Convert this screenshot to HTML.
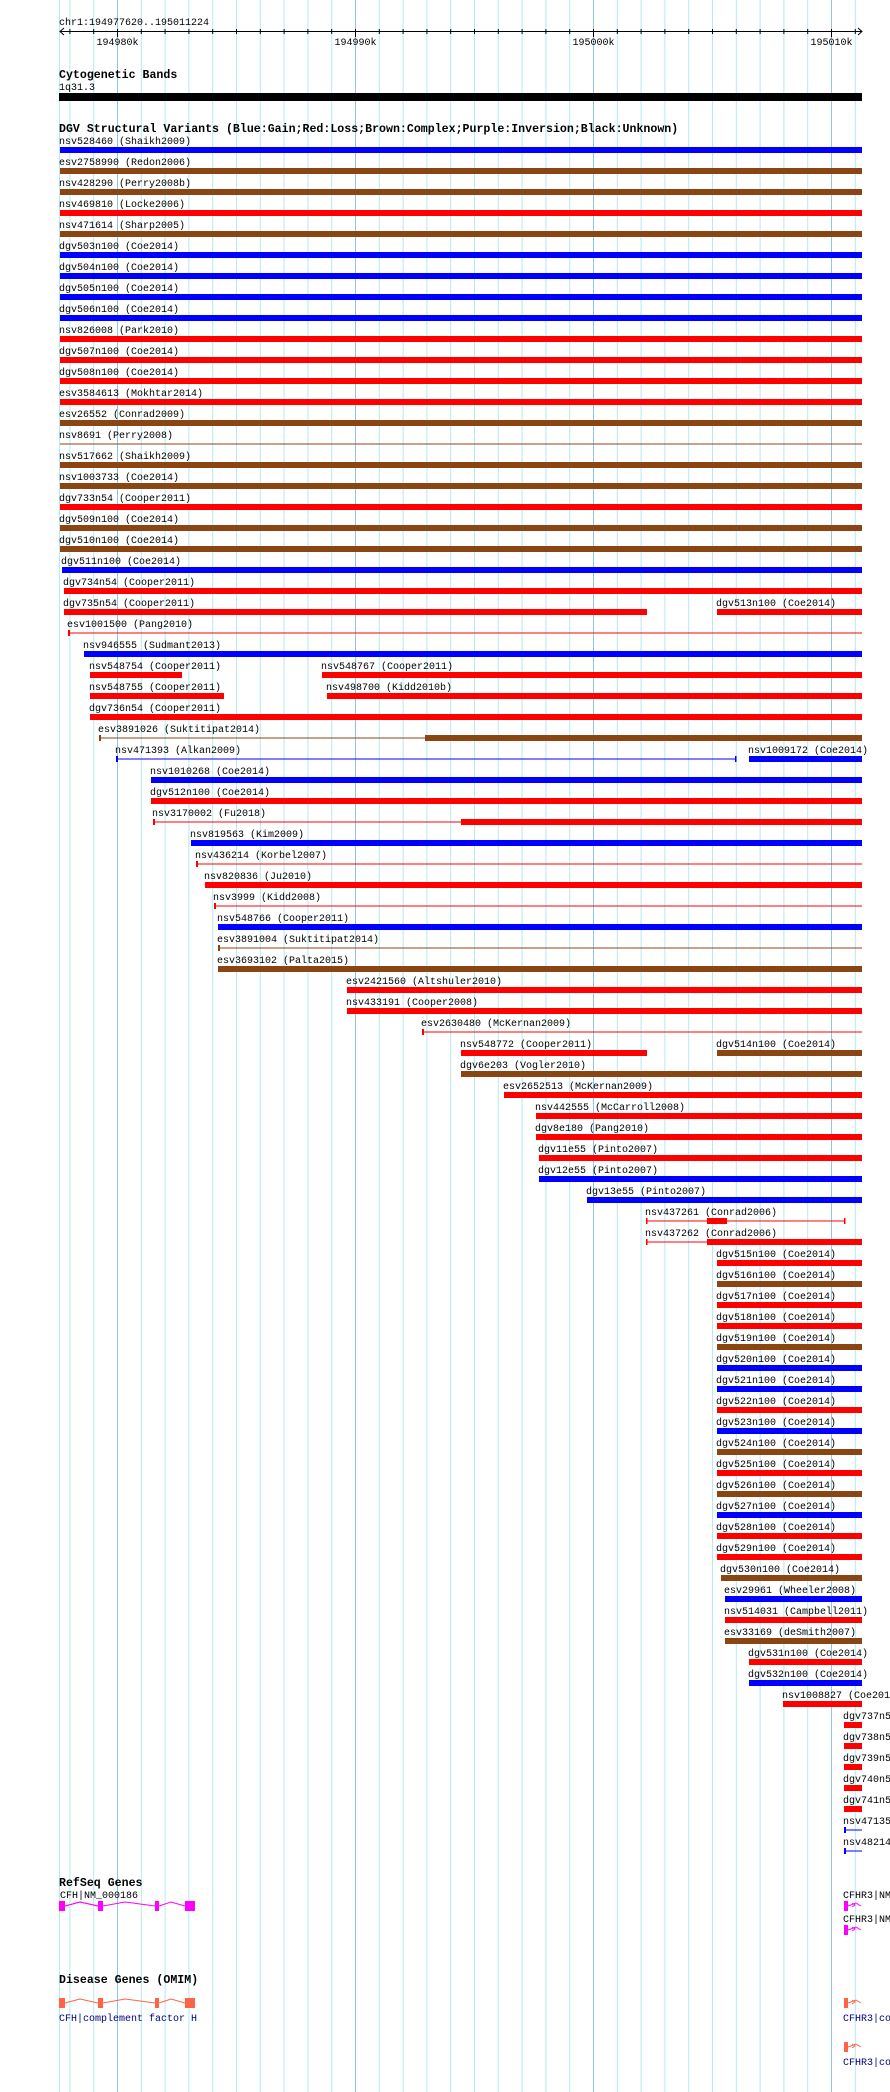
<!DOCTYPE html>
<html><head><meta charset="utf-8"><style>
html,body{margin:0;padding:0;background:#fff;width:890px;height:2092px;overflow:hidden}
svg{display:block}
text{font-family:"Liberation Mono",monospace;font-size:10px;fill:#000}
.t{font-weight:bold;font-size:11.6px}
</style></head><body>
<svg width="890" height="2092" viewBox="0 0 890 2092" xmlns="http://www.w3.org/2000/svg">
<g stroke="#b4eaf2" stroke-width="1">
<line x1="59.5" y1="0" x2="59.5" y2="2092"/>
<line x1="69.9" y1="0" x2="69.9" y2="2092"/><line x1="93.7" y1="0" x2="93.7" y2="2092"/>
<line x1="141.3" y1="0" x2="141.3" y2="2092"/><line x1="165.1" y1="0" x2="165.1" y2="2092"/><line x1="188.9" y1="0" x2="188.9" y2="2092"/><line x1="212.7" y1="0" x2="212.7" y2="2092"/><line x1="236.5" y1="0" x2="236.5" y2="2092"/><line x1="260.3" y1="0" x2="260.3" y2="2092"/><line x1="284.1" y1="0" x2="284.1" y2="2092"/><line x1="307.9" y1="0" x2="307.9" y2="2092"/><line x1="331.7" y1="0" x2="331.7" y2="2092"/>
<line x1="379.3" y1="0" x2="379.3" y2="2092"/><line x1="403.1" y1="0" x2="403.1" y2="2092"/><line x1="426.9" y1="0" x2="426.9" y2="2092"/><line x1="450.7" y1="0" x2="450.7" y2="2092"/><line x1="474.5" y1="0" x2="474.5" y2="2092"/><line x1="498.3" y1="0" x2="498.3" y2="2092"/><line x1="522.1" y1="0" x2="522.1" y2="2092"/><line x1="545.9" y1="0" x2="545.9" y2="2092"/><line x1="569.7" y1="0" x2="569.7" y2="2092"/>
<line x1="617.3" y1="0" x2="617.3" y2="2092"/><line x1="641.1" y1="0" x2="641.1" y2="2092"/><line x1="664.9" y1="0" x2="664.9" y2="2092"/><line x1="688.7" y1="0" x2="688.7" y2="2092"/><line x1="712.5" y1="0" x2="712.5" y2="2092"/><line x1="736.3" y1="0" x2="736.3" y2="2092"/><line x1="760.1" y1="0" x2="760.1" y2="2092"/><line x1="783.9" y1="0" x2="783.9" y2="2092"/><line x1="807.7" y1="0" x2="807.7" y2="2092"/>
<line x1="855.3" y1="0" x2="855.3" y2="2092"/>
</g>
<g stroke="#8cc8e6" stroke-width="1">
<line x1="117.5" y1="0" x2="117.5" y2="2092"/><line x1="355.5" y1="0" x2="355.5" y2="2092"/><line x1="593.5" y1="0" x2="593.5" y2="2092"/><line x1="831.5" y1="0" x2="831.5" y2="2092"/>
</g>
<!-- ruler -->
<text x="59" y="25">chr1:194977620..195011224</text>
<g stroke="#000" stroke-width="1">
<line x1="60" y1="31.5" x2="862" y2="31.5"/>
<polyline fill="none" points="64,28 60,31.5 64,35"/><polyline fill="none" points="858,28 862,31.5 858,35"/>
<line x1="69.9" y1="29" x2="69.9" y2="34"/><line x1="93.7" y1="29" x2="93.7" y2="34"/><line x1="117.5" y1="29" x2="117.5" y2="37"/><line x1="141.3" y1="29" x2="141.3" y2="34"/><line x1="165.1" y1="29" x2="165.1" y2="34"/><line x1="188.9" y1="29" x2="188.9" y2="34"/><line x1="212.7" y1="29" x2="212.7" y2="34"/><line x1="236.5" y1="29" x2="236.5" y2="34"/><line x1="260.3" y1="29" x2="260.3" y2="34"/><line x1="284.1" y1="29" x2="284.1" y2="34"/><line x1="307.9" y1="29" x2="307.9" y2="34"/><line x1="331.7" y1="29" x2="331.7" y2="34"/><line x1="355.5" y1="29" x2="355.5" y2="37"/><line x1="379.3" y1="29" x2="379.3" y2="34"/><line x1="403.1" y1="29" x2="403.1" y2="34"/><line x1="426.9" y1="29" x2="426.9" y2="34"/><line x1="450.7" y1="29" x2="450.7" y2="34"/><line x1="474.5" y1="29" x2="474.5" y2="34"/><line x1="498.3" y1="29" x2="498.3" y2="34"/><line x1="522.1" y1="29" x2="522.1" y2="34"/><line x1="545.9" y1="29" x2="545.9" y2="34"/><line x1="569.7" y1="29" x2="569.7" y2="34"/><line x1="593.5" y1="29" x2="593.5" y2="37"/><line x1="617.3" y1="29" x2="617.3" y2="34"/><line x1="641.1" y1="29" x2="641.1" y2="34"/><line x1="664.9" y1="29" x2="664.9" y2="34"/><line x1="688.7" y1="29" x2="688.7" y2="34"/><line x1="712.5" y1="29" x2="712.5" y2="34"/><line x1="736.3" y1="29" x2="736.3" y2="34"/><line x1="760.1" y1="29" x2="760.1" y2="34"/><line x1="783.9" y1="29" x2="783.9" y2="34"/><line x1="807.7" y1="29" x2="807.7" y2="34"/><line x1="831.5" y1="29" x2="831.5" y2="37"/><line x1="855.3" y1="29" x2="855.3" y2="34"/>
</g>
<text x="117.5" y="45" text-anchor="middle">194980k</text>
<text x="355.5" y="45" text-anchor="middle">194990k</text>
<text x="593.5" y="45" text-anchor="middle">195000k</text>
<text x="831.5" y="45" text-anchor="middle">195010k</text>
<!-- cyto -->
<text class="t" x="59" y="78">Cytogenetic Bands</text>
<text x="59" y="90">1q31.3</text>
<rect x="59" y="93" width="803" height="8" fill="#000"/>
<!-- DGV -->
<text class="t" x="59" y="132">DGV Structural Variants (Blue:Gain;Red:Loss;Brown:Complex;Purple:Inversion;Black:Unknown)</text>
<text x="59" y="144">nsv528460 (Shaikh2009)</text><rect x="60" y="147" width="802" height="6" fill="#0000ff"/>
<text x="59" y="165">esv2758990 (Redon2006)</text><rect x="60" y="168" width="802" height="6" fill="#8b4513"/>
<text x="59" y="186">nsv428290 (Perry2008b)</text><rect x="60" y="189" width="802" height="6" fill="#8b4513"/>
<text x="59" y="207">nsv469810 (Locke2006)</text><rect x="60" y="210" width="802" height="6" fill="#ff0000"/>
<text x="59" y="228">nsv471614 (Sharp2005)</text><rect x="60" y="231" width="802" height="6" fill="#8b4513"/>
<text x="59" y="249">dgv503n100 (Coe2014)</text><rect x="60" y="252" width="802" height="6" fill="#0000ff"/>
<text x="59" y="270">dgv504n100 (Coe2014)</text><rect x="60" y="273" width="802" height="6" fill="#0000ff"/>
<text x="59" y="291">dgv505n100 (Coe2014)</text><rect x="60" y="294" width="802" height="6" fill="#0000ff"/>
<text x="59" y="312">dgv506n100 (Coe2014)</text><rect x="60" y="315" width="802" height="6" fill="#0000ff"/>
<text x="59" y="333">nsv826008 (Park2010)</text><rect x="60" y="336" width="802" height="6" fill="#ff0000"/>
<text x="59" y="354">dgv507n100 (Coe2014)</text><rect x="60" y="357" width="802" height="6" fill="#ff0000"/>
<text x="59" y="375">dgv508n100 (Coe2014)</text><rect x="60" y="378" width="802" height="6" fill="#ff0000"/>
<text x="59" y="396">esv3584613 (Mokhtar2014)</text><rect x="60" y="399" width="802" height="6" fill="#ff0000"/>
<text x="59" y="417">esv26552 (Conrad2009)</text><rect x="60" y="420" width="802" height="6" fill="#8b4513"/>
<text x="59" y="438">nsv8691 (Perry2008)</text><rect x="60" y="443.5" width="802" height="1" fill="#8b4513"/>
<text x="59" y="459">nsv517662 (Shaikh2009)</text><rect x="60" y="462" width="802" height="6" fill="#8b4513"/>
<text x="59" y="480">nsv1003733 (Coe2014)</text><rect x="60" y="483" width="802" height="6" fill="#8b4513"/>
<text x="59" y="501">dgv733n54 (Cooper2011)</text><rect x="60" y="504" width="802" height="6" fill="#ff0000"/>
<text x="59" y="522">dgv509n100 (Coe2014)</text><rect x="60" y="525" width="802" height="6" fill="#8b4513"/>
<text x="59" y="543">dgv510n100 (Coe2014)</text><rect x="60" y="546" width="802" height="6" fill="#8b4513"/>
<text x="61" y="564">dgv511n100 (Coe2014)</text><rect x="62" y="567" width="800" height="6" fill="#0000ff"/>
<text x="63" y="585">dgv734n54 (Cooper2011)</text><rect x="64" y="588" width="798" height="6" fill="#ff0000"/>
<text x="63" y="606">dgv735n54 (Cooper2011)</text><rect x="64" y="609" width="583" height="6" fill="#ff0000"/>
<text x="716" y="606">dgv513n100 (Coe2014)</text><rect x="717" y="609" width="145" height="6" fill="#ff0000"/>
<text x="67" y="627">esv1001500 (Pang2010)</text><rect x="68" y="630" width="2" height="6" fill="#ff0000"/><rect x="68" y="632.5" width="794" height="1" fill="#ff0000"/>
<text x="83" y="648">nsv946555 (Sudmant2013)</text><rect x="84" y="651" width="778" height="6" fill="#0000ff"/>
<text x="89" y="669">nsv548754 (Cooper2011)</text><rect x="90" y="672" width="92" height="6" fill="#ff0000"/>
<text x="321" y="669">nsv548767 (Cooper2011)</text><rect x="322" y="672" width="540" height="6" fill="#ff0000"/>
<text x="89" y="690">nsv548755 (Cooper2011)</text><rect x="90" y="693" width="134" height="6" fill="#ff0000"/>
<text x="326" y="690">nsv498700 (Kidd2010b)</text><rect x="327" y="693" width="535" height="6" fill="#ff0000"/>
<text x="89" y="711">dgv736n54 (Cooper2011)</text><rect x="90" y="714" width="772" height="6" fill="#ff0000"/>
<text x="98" y="732">esv3891026 (Suktitipat2014)</text><rect x="99" y="735" width="2" height="6" fill="#8b4513"/><rect x="99" y="737.5" width="326" height="1" fill="#8b4513"/><rect x="425" y="735" width="437" height="6" fill="#8b4513"/>
<text x="115" y="753">nsv471393 (Alkan2009)</text><rect x="116" y="756" width="2" height="6" fill="#0000ff"/><rect x="116" y="758.5" width="620" height="1" fill="#0000ff"/><rect x="735" y="756" width="1.5" height="6" fill="#0000ff"/>
<text x="748" y="753">nsv1009172 (Coe2014)</text><rect x="749" y="756" width="113" height="6" fill="#0000ff"/>
<text x="150" y="774">nsv1010268 (Coe2014)</text><rect x="151" y="777" width="711" height="6" fill="#0000ff"/>
<text x="150" y="795">dgv512n100 (Coe2014)</text><rect x="151" y="798" width="711" height="6" fill="#ff0000"/>
<text x="152" y="816">nsv3170002 (Fu2018)</text><rect x="153" y="819" width="2" height="6" fill="#ff0000"/><rect x="153" y="821.5" width="308" height="1" fill="#ff0000"/><rect x="461" y="819" width="401" height="6" fill="#ff0000"/>
<text x="190" y="837">nsv819563 (Kim2009)</text><rect x="191" y="840" width="671" height="6" fill="#0000ff"/>
<text x="195" y="858">nsv436214 (Korbel2007)</text><rect x="196" y="861" width="2" height="6" fill="#ff0000"/><rect x="196" y="863.5" width="666" height="1" fill="#ff0000"/>
<text x="204" y="879">nsv820836 (Ju2010)</text><rect x="205" y="882" width="657" height="6" fill="#ff0000"/>
<text x="213" y="900">nsv3999 (Kidd2008)</text><rect x="214" y="903" width="2" height="6" fill="#ff0000"/><rect x="214" y="905.5" width="648" height="1" fill="#ff0000"/>
<text x="217" y="921">nsv548766 (Cooper2011)</text><rect x="218" y="924" width="644" height="6" fill="#0000ff"/>
<text x="217" y="942">esv3891004 (Suktitipat2014)</text><rect x="218" y="945" width="2" height="6" fill="#8b4513"/><rect x="218" y="947.5" width="644" height="1" fill="#8b4513"/>
<text x="217" y="963">esv3693102 (Palta2015)</text><rect x="218" y="966" width="644" height="6" fill="#8b4513"/>
<text x="346" y="984">esv2421560 (Altshuler2010)</text><rect x="347" y="987" width="515" height="6" fill="#ff0000"/>
<text x="346" y="1005">nsv433191 (Cooper2008)</text><rect x="347" y="1008" width="515" height="6" fill="#ff0000"/>
<text x="421" y="1026">esv2630480 (McKernan2009)</text><rect x="422" y="1029" width="2" height="6" fill="#ff0000"/><rect x="422" y="1031.5" width="440" height="1" fill="#ff0000"/>
<text x="460" y="1047">nsv548772 (Cooper2011)</text><rect x="461" y="1050" width="186" height="6" fill="#ff0000"/>
<text x="716" y="1047">dgv514n100 (Coe2014)</text><rect x="717" y="1050" width="145" height="6" fill="#8b4513"/>
<text x="460" y="1068">dgv6e203 (Vogler2010)</text><rect x="461" y="1071" width="401" height="6" fill="#8b4513"/>
<text x="503" y="1089">esv2652513 (McKernan2009)</text><rect x="504" y="1092" width="358" height="6" fill="#ff0000"/>
<text x="535" y="1110">nsv442555 (McCarroll2008)</text><rect x="536" y="1113" width="326" height="6" fill="#ff0000"/>
<text x="535" y="1131">dgv8e180 (Pang2010)</text><rect x="536" y="1134" width="326" height="6" fill="#ff0000"/>
<text x="538" y="1152">dgv11e55 (Pinto2007)</text><rect x="539" y="1155" width="323" height="6" fill="#ff0000"/>
<text x="538" y="1173">dgv12e55 (Pinto2007)</text><rect x="539" y="1176" width="323" height="6" fill="#0000ff"/>
<text x="586" y="1194">dgv13e55 (Pinto2007)</text><rect x="587" y="1197" width="275" height="6" fill="#0000ff"/>
<text x="645" y="1215">nsv437261 (Conrad2006)</text><rect x="646" y="1218" width="1.5" height="6" fill="#ff0000"/><rect x="646" y="1220.5" width="199" height="1" fill="#ff0000"/><rect x="707" y="1218" width="20" height="6" fill="#ff0000"/><rect x="844" y="1218" width="1.5" height="6" fill="#ff0000"/>
<text x="645" y="1236">nsv437262 (Conrad2006)</text><rect x="646" y="1239" width="1.5" height="6" fill="#ff0000"/><rect x="646" y="1241.5" width="61" height="1" fill="#ff0000"/><rect x="707" y="1239" width="155" height="6" fill="#ff0000"/>
<text x="716" y="1257">dgv515n100 (Coe2014)</text><rect x="717" y="1260" width="145" height="6" fill="#ff0000"/>
<text x="716" y="1278">dgv516n100 (Coe2014)</text><rect x="717" y="1281" width="145" height="6" fill="#8b4513"/>
<text x="716" y="1299">dgv517n100 (Coe2014)</text><rect x="717" y="1302" width="145" height="6" fill="#ff0000"/>
<text x="716" y="1320">dgv518n100 (Coe2014)</text><rect x="717" y="1323" width="145" height="6" fill="#ff0000"/>
<text x="716" y="1341">dgv519n100 (Coe2014)</text><rect x="717" y="1344" width="145" height="6" fill="#8b4513"/>
<text x="716" y="1362">dgv520n100 (Coe2014)</text><rect x="717" y="1365" width="145" height="6" fill="#0000ff"/>
<text x="716" y="1383">dgv521n100 (Coe2014)</text><rect x="717" y="1386" width="145" height="6" fill="#0000ff"/>
<text x="716" y="1404">dgv522n100 (Coe2014)</text><rect x="717" y="1407" width="145" height="6" fill="#ff0000"/>
<text x="716" y="1425">dgv523n100 (Coe2014)</text><rect x="717" y="1428" width="145" height="6" fill="#0000ff"/>
<text x="716" y="1446">dgv524n100 (Coe2014)</text><rect x="717" y="1449" width="145" height="6" fill="#8b4513"/>
<text x="716" y="1467">dgv525n100 (Coe2014)</text><rect x="717" y="1470" width="145" height="6" fill="#ff0000"/>
<text x="716" y="1488">dgv526n100 (Coe2014)</text><rect x="717" y="1491" width="145" height="6" fill="#8b4513"/>
<text x="716" y="1509">dgv527n100 (Coe2014)</text><rect x="717" y="1512" width="145" height="6" fill="#0000ff"/>
<text x="716" y="1530">dgv528n100 (Coe2014)</text><rect x="717" y="1533" width="145" height="6" fill="#ff0000"/>
<text x="716" y="1551">dgv529n100 (Coe2014)</text><rect x="717" y="1554" width="145" height="6" fill="#ff0000"/>
<text x="720" y="1572">dgv530n100 (Coe2014)</text><rect x="721" y="1575" width="141" height="6" fill="#8b4513"/>
<text x="724" y="1593">esv29961 (Wheeler2008)</text><rect x="725" y="1596" width="137" height="6" fill="#0000ff"/>
<text x="724" y="1614">nsv514031 (Campbell2011)</text><rect x="725" y="1617" width="137" height="6" fill="#ff0000"/>
<text x="724" y="1635">esv33169 (deSmith2007)</text><rect x="725" y="1638" width="137" height="6" fill="#8b4513"/>
<text x="748" y="1656">dgv531n100 (Coe2014)</text><rect x="749" y="1659" width="113" height="6" fill="#ff0000"/>
<text x="748" y="1677">dgv532n100 (Coe2014)</text><rect x="749" y="1680" width="113" height="6" fill="#0000ff"/>
<text x="782" y="1698">nsv1008827 (Coe2014)</text><rect x="783" y="1701" width="79" height="6" fill="#ff0000"/>
<text x="843" y="1719">dgv737n54 (Cooper2011)</text><rect x="844" y="1722" width="18" height="6" fill="#ff0000"/>
<text x="843" y="1740">dgv738n54 (Cooper2011)</text><rect x="844" y="1743" width="18" height="6" fill="#ff0000"/>
<text x="843" y="1761">dgv739n54 (Cooper2011)</text><rect x="844" y="1764" width="18" height="6" fill="#ff0000"/>
<text x="843" y="1782">dgv740n54 (Cooper2011)</text><rect x="844" y="1785" width="18" height="6" fill="#ff0000"/>
<text x="843" y="1803">dgv741n54 (Cooper2011)</text><rect x="844" y="1806" width="18" height="6" fill="#ff0000"/>
<text x="843" y="1824">nsv471359 (Alkan2009)</text><rect x="844" y="1827" width="2" height="6" fill="#0000ff"/><rect x="844" y="1829.5" width="18" height="1" fill="#0000ff"/>
<text x="843" y="1845">nsv482146 (Teague2010)</text><rect x="844" y="1848" width="2" height="6" fill="#0000ff"/><rect x="844" y="1850.5" width="18" height="1" fill="#0000ff"/>
<!-- RefSeq -->
<text class="t" x="59" y="1886">RefSeq Genes</text>
<text x="60" y="1898">CFH|NM_000186</text>
<g fill="#ff00ff"><rect x="59" y="1901" width="6" height="10"/><rect x="98" y="1901" width="5" height="10"/><rect x="155" y="1901" width="4" height="10"/><rect x="185" y="1901" width="10" height="10"/></g>
<polyline fill="none" stroke="#ff00ff" stroke-width="1" points="65,1906 80,1902 98,1906 M"/>
<polyline fill="none" stroke="#ff00ff" points="65,1906 80,1902 98,1906"/>
<polyline fill="none" stroke="#ff00ff" points="103,1906 125,1902 155,1906"/>
<polyline fill="none" stroke="#ff00ff" points="159,1906 171,1902 185,1906"/>
<text x="843" y="1898">CFHR3|NM_021023</text>
<rect x="844" y="1901" width="4" height="10" fill="#ff00ff"/><polyline fill="none" stroke="#ff00ff" points="848,1906 856,1903 861,1906"/><polyline fill="none" stroke="#ff00ff" points="852,1903 855,1905 852,1907"/>
<text x="843" y="1922">CFHR3|NM_001166624</text>
<rect x="844" y="1925" width="4" height="10" fill="#ff00ff"/><polyline fill="none" stroke="#ff00ff" points="848,1930 856,1927 861,1930"/><polyline fill="none" stroke="#ff00ff" points="852,1927 855,1929 852,1931"/>
<!-- OMIM -->
<text class="t" x="59" y="1983">Disease Genes (OMIM)</text>
<g fill="#ff6347"><rect x="59" y="1998" width="6" height="10"/><rect x="98" y="1998" width="5" height="10"/><rect x="155" y="1998" width="4" height="10"/><rect x="185" y="1998" width="10" height="10"/></g>
<polyline fill="none" stroke="#ff6347" points="65,2003 80,1999 98,2003"/>
<polyline fill="none" stroke="#ff6347" points="103,2003 125,1999 155,2003"/>
<polyline fill="none" stroke="#ff6347" points="159,2003 171,1999 185,2003"/>
<text x="59" y="2021" style="fill:#000080">CFH|complement factor H</text>
<rect x="844" y="1998" width="4" height="10" fill="#ff6347"/><polyline fill="none" stroke="#ff6347" points="848,2003 856,2000 861,2003"/><polyline fill="none" stroke="#ff6347" points="852,2000 855,2002 852,2004"/>
<text x="843" y="2021" style="fill:#000080">CFHR3|complement factor H-related 3</text>
<rect x="844" y="2042" width="4" height="10" fill="#ff6347"/><polyline fill="none" stroke="#ff6347" points="848,2047 856,2044 861,2047"/><polyline fill="none" stroke="#ff6347" points="852,2044 855,2046 852,2048"/>
<text x="843" y="2065" style="fill:#000080">CFHR3|complement factor H-related 3</text>
</svg>
</body></html>
